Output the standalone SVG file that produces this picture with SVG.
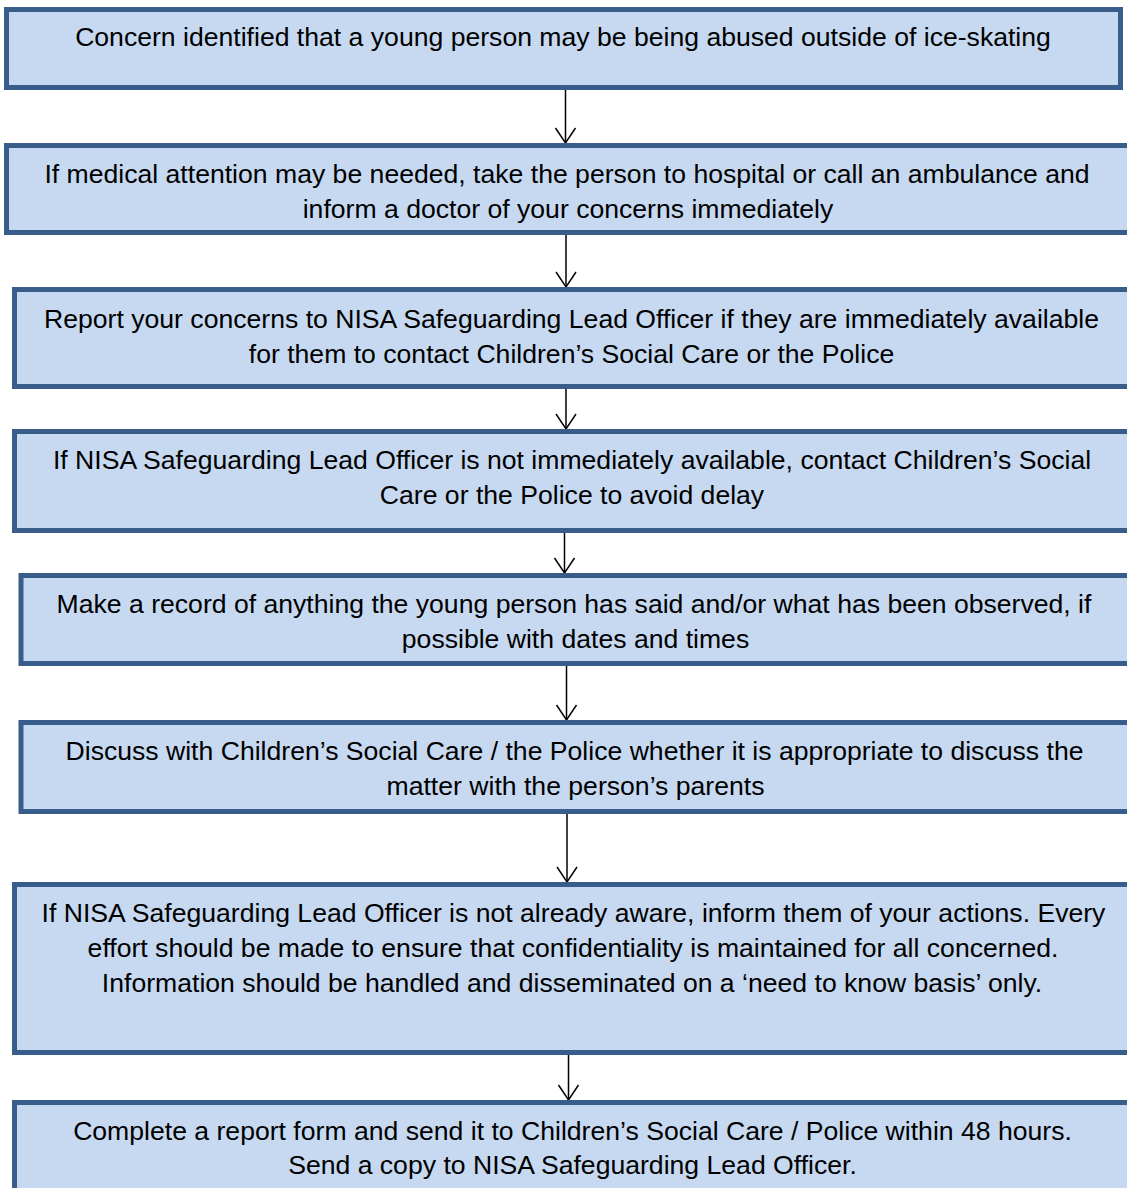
<svg xmlns="http://www.w3.org/2000/svg" width="1127" height="1188" viewBox="0 0 1127 1188">
<style>
.box{fill:#C6D9F1;stroke:#385D8A;stroke-width:5}
.t{font-family:"Liberation Sans",Arial,sans-serif;font-size:26.6px;fill:#000;text-anchor:middle}
.c{stroke:#000;stroke-width:1.5;fill:none}
</style>
<defs>
<marker id="ah" markerUnits="userSpaceOnUse" orient="auto" overflow="visible" markerWidth="20" markerHeight="20" refX="0" refY="0">
<path d="M-15,-10 L0,0 L-15,10" fill="none" stroke="#000" stroke-width="1.5"/>
</marker>
</defs>
<rect width="1127" height="1188" fill="#fff"/>
<g id="connectors">
<line class="c" x1="565.5" y1="90" x2="565.5" y2="143" marker-end="url(#ah)"/>
<line class="c" x1="566" y1="235" x2="566" y2="287" marker-end="url(#ah)"/>
<line class="c" x1="566" y1="389" x2="566" y2="429" marker-end="url(#ah)"/>
<line class="c" x1="564.5" y1="533" x2="564.5" y2="573" marker-end="url(#ah)"/>
<line class="c" x1="566.5" y1="666" x2="566.5" y2="720" marker-end="url(#ah)"/>
<line class="c" x1="567" y1="814" x2="567" y2="882" marker-end="url(#ah)"/>
<line class="c" x1="568.5" y1="1055" x2="568.5" y2="1100" marker-end="url(#ah)"/>
</g>
<g id="n1"><rect class="box" x="6.5" y="9.5" width="1114" height="78"/>
<text class="t" x="563" y="45.5">Concern identified that a young person may be being abused outside of ice-skating</text></g>
<g id="n2"><rect class="box" x="6.5" y="145.5" width="1135" height="87"/>
<text class="t" x="567" y="182.5">If medical attention may be needed, take the person to hospital or call an ambulance and</text>
<text class="t" x="568" y="217.5">inform a doctor of your concerns immediately</text></g>
<g id="n3"><rect class="box" x="14.5" y="289.5" width="1130" height="97"/>
<text class="t" x="571.5" y="327.5">Report your concerns to NISA Safeguarding Lead Officer if they are immediately available</text>
<text class="t" x="571.5" y="362.5">for them to contact Children’s Social Care or the Police</text></g>
<g id="n4"><rect class="box" x="14.5" y="431.5" width="1130" height="99"/>
<text class="t" x="572" y="468.5">If NISA Safeguarding Lead Officer is not immediately available, contact Children’s Social</text>
<text class="t" x="572" y="503.5">Care or the Police to avoid delay</text></g>
<g id="n5"><rect class="box" x="21" y="575.5" width="1125" height="88"/>
<text class="t" x="574" y="612.5">Make a record of anything the young person has said and/or what has been observed, if</text>
<text class="t" x="575.5" y="647.5">possible with dates and times</text></g>
<g id="n6"><rect class="box" x="21" y="722.5" width="1125" height="89"/>
<text class="t" x="574.5" y="759.5">Discuss with Children’s Social Care / the Police whether it is appropriate to discuss the</text>
<text class="t" x="575.5" y="794.5">matter with the person’s parents</text></g>
<g id="n7"><rect class="box" x="14.5" y="884.5" width="1130" height="168"/>
<text class="t" x="573.5" y="921.5">If NISA Safeguarding Lead Officer is not already aware, inform them of your actions. Every</text>
<text class="t" x="573" y="956.5">effort should be made to ensure that confidentiality is maintained for all concerned.</text>
<text class="t" x="572" y="991.5">Information should be handled and disseminated on a ‘need to know basis’ only.</text></g>
<g id="n8"><rect class="box" x="14.5" y="1102.5" width="1130" height="100"/>
<text class="t" x="572.5" y="1139.5">Complete a report form and send it to Children’s Social Care / Police within 48 hours.</text>
<text class="t" x="572.5" y="1173.5">Send a copy to NISA Safeguarding Lead Officer.</text></g>
</svg>
